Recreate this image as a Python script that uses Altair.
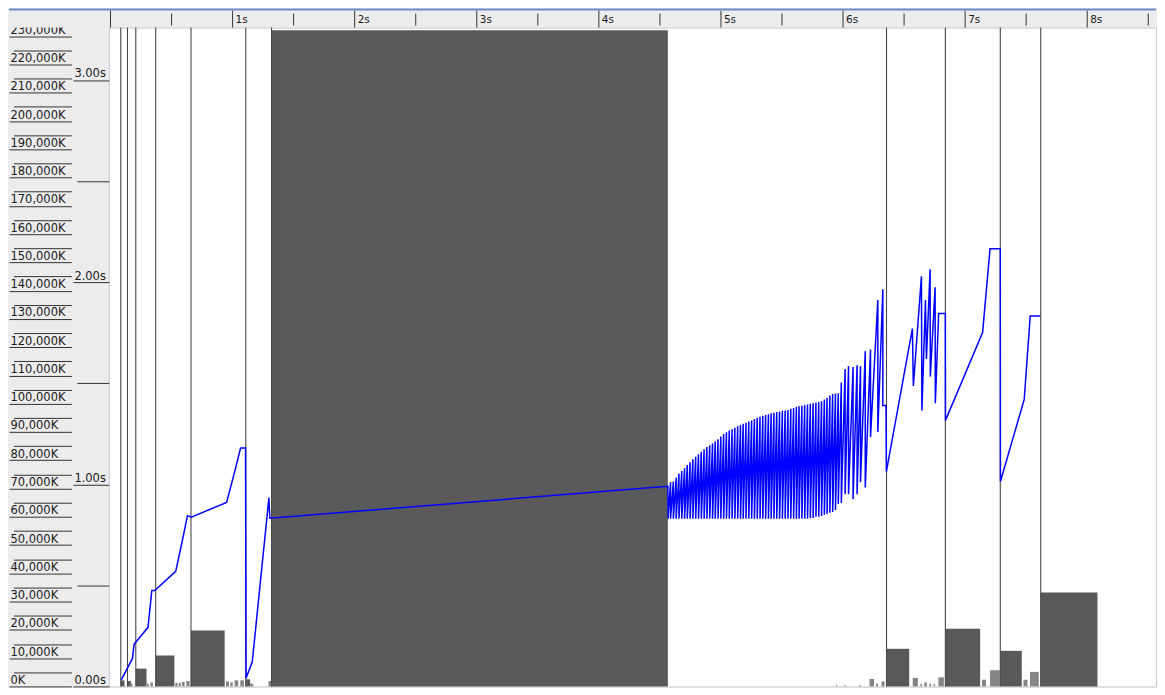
import altair as alt
import pandas as pd

# ---------------- data ----------------
# heap usage line (time in s, used heap in K)
pre_t = [0.088, 0.180, 0.193, 0.307, 0.338, 0.362, 0.534, 0.589, 0.630, 0.662,
         0.951, 1.025, 1.065, 1.106, 1.110, 1.161, 1.284, 1.297, 1.305, 4.565, 4.567]
pre_k = [2300, 9900, 14900, 20900, 33900, 33900, 40700, 51700, 60400, 59900,
         65100, 77300, 84300, 84300, 2900, 8700, 61000, 66800, 59500, 70800, 59300]

# young collections in the dense sawtooth (time, heap before GC, heap after GC)
saw_t = [4.587, 4.610, 4.633, 4.656, 4.679, 4.702, 4.724, 4.747, 4.770, 4.793,
         4.816, 4.839, 4.862, 4.885, 4.908, 4.931, 4.953, 4.976, 4.999, 5.022,
         5.045, 5.068, 5.091, 5.114, 5.137, 5.160, 5.182, 5.205, 5.228, 5.251,
         5.274, 5.297, 5.320, 5.343, 5.366, 5.389, 5.411, 5.434, 5.457, 5.480,
         5.503, 5.526, 5.549, 5.572, 5.595, 5.618, 5.640, 5.663, 5.686, 5.709,
         5.732, 5.755, 5.778, 5.801, 5.824, 5.847, 5.869, 5.892, 5.915, 5.938,
         5.961, 5.986, 6.017, 6.045, 6.082, 6.115, 6.143, 6.182, 6.225, 6.285, 6.326]
saw_peak = [72200, 72500, 73900, 75300, 76200, 77200, 78300, 79300, 80400, 81200,
            82100, 83000, 83900, 84700, 85300, 85900, 86600, 87400, 88400, 89300,
            89900, 90500, 91000, 91500, 92000, 92500, 92900, 93300, 93700, 94100,
            94600, 95000, 95400, 95700, 96000, 96300, 96600, 96800, 97100, 97200,
            97500, 97600, 97800, 98200, 98500, 98900, 99100, 99300, 99500, 99700,
            100000, 100200, 100400, 100600, 100900, 101500, 102000, 102900, 103400, 103600,
            103700, 107500, 112300, 113300, 113000, 113600, 113300, 118600, 119200, 136700, 140500]
saw_low = [59300, 59300, 59300, 59300, 59300, 59300, 59300, 59300, 59300, 59300,
           59300, 59300, 59300, 59300, 59300, 59300, 59300, 59300, 59300, 59300,
           59300, 59300, 59300, 59300, 59300, 59300, 59300, 59300, 59300, 59300,
           59300, 59300, 59300, 59300, 59300, 59300, 59300, 59300, 59300, 59300,
           59300, 59300, 59300, 59300, 59300, 59300, 59300, 59300, 59300, 59300,
           59600, 59600, 60000, 60000, 60300, 60700, 61000, 61400, 61700, 62400,
           64500, 64900, 68000, 68000, 66200, 68000, 72200, 70400, 88200, 90000, 99400]

post_t = [6.352, 6.355, 6.568, 6.576, 6.642, 6.646, 6.675, 6.683, 6.713, 6.715, 6.754,
          6.756, 6.783, 6.838, 6.839, 7.143, 7.204, 7.288, 7.289, 7.484, 7.533, 7.615]
post_k = [99400, 76000, 126600, 106300, 145100, 97600, 136700, 115800, 147600, 109600, 141200,
          100200, 131900, 131900, 94100, 125200, 154800, 154800, 72500, 101500, 131000, 131000]

# full GC events: start time and pause (s)
full_t = [0.084, 0.139, 0.207, 0.370, 0.659, 1.108, 1.319, 6.356, 6.838, 7.288, 7.619]
full_d = [0.030, 0.027, 0.088, 0.153, 0.276, 0.035, 3.246, 0.186, 0.285, 0.176, 0.465]

# young GC pauses that are visible (start time, pause in s)
young_t = [0.164, 0.299, 0.327, 0.531, 0.558, 0.585, 0.621, 0.945, 0.981, 1.016,
           1.063, 1.145, 1.158, 1.294, 5.944, 6.012, 6.135, 6.217, 6.271, 6.315,
           6.571, 6.634, 6.666, 6.707, 6.742, 6.781, 7.138, 7.204, 7.478, 7.531]
young_d = [0.015, 0.014, 0.020, 0.018, 0.018, 0.022, 0.027, 0.025, 0.020, 0.030,
           0.030, 0.015, 0.012, 0.027, 0.008, 0.008, 0.008, 0.037, 0.015, 0.025,
           0.042, 0.012, 0.020, 0.014, 0.012, 0.045, 0.033, 0.080, 0.033, 0.072]

# ruler ticks and labels
sec_major = [0, 1, 2, 3, 4, 5, 6, 7, 8]
sec_labels = ["", "1s", "2s", "3s", "4s", "5s", "6s", "7s", "8s"]
sec_minor = [0.5, 1.5, 2.5, 3.5, 4.5, 5.5, 6.5, 7.5, 8.5]
mem_ticks = list(range(0, 230001, 5000))
pause_ticks = [0, 0.5, 1, 1.5, 2, 2.5, 3]

# ---------------- tables ----------------
rows = list(zip(pre_t, pre_k))
for t, p, l in zip(saw_t, saw_peak, saw_low):
    rows.append((t, p))
    rows.append((t, l))
rows += list(zip(post_t, post_k))
heap = pd.DataFrame(rows, columns=["t", "k"])
heap["i"] = range(len(heap))

pauses = pd.DataFrame({
    "t": full_t + young_t,
    "d": full_d + young_d,
    "kind": ["full"] * len(full_t) + ["young"] * len(young_t),
})
pauses["end"] = pauses["t"] + pauses["d"]
pauses["zero"] = 0.0

full_df = pd.DataFrame({"t": full_t})
major_df = pd.DataFrame({"t": sec_major, "label": sec_labels})
minor_df = pd.DataFrame({"t": sec_minor})
deco = pd.DataFrame({"a": [0]})

W, H = 1049, 660
FONT = "DejaVu Sans"
xscale = alt.Scale(domain=[-0.0139, 8.5634], nice=False, zero=False)
mem_scale = alt.Scale(domain=[0, 233068], nice=False, zero=False)
pause_scale = alt.Scale(domain=[0, 3.2593], nice=False, zero=False)
noX = dict(scale=xscale, axis=None)

pause_axis = alt.Axis(
    orient="left", offset=0, values=pause_ticks, domain=False, grid=False, title=None,
    tickSize={"condition": {"test": "datum.value % 1 != 0", "value": 32}, "value": 36},
    tickColor="#333333", tickWidth=1,
    labelExpr="datum.value % 1 == 0 ? format(datum.value, '.2f') + 's' : ''",
    labelAlign="left", labelBaseline="alphabetic", labelPadding=-1, labelOffset=-3,
    labelFlush=False, labelOverlap=False, labelFont=FONT, labelFontSize=11.5,
    labelColor="#1a1a1a",
)
mem_axis = alt.Axis(
    orient="left", offset=37.5, values=mem_ticks, domain=False, grid=False, title=None,
    tickSize={"condition": {"test": "datum.value % 10000 != 0", "value": 58}, "value": 62.5},
    tickColor="#333333", tickWidth=1,
    labelExpr="datum.value % 10000 == 0 ? format(datum.value, ',') + 'K' : ''",
    labelAlign="left", labelBaseline="alphabetic", labelPadding=-1, labelOffset=-3,
    labelFlush=False, labelOverlap=False, labelFont=FONT, labelFontSize=11.5,
    labelColor="#1a1a1a",
)

bars = alt.Chart(pauses).mark_rect().encode(
    x=alt.X("t:Q", **noX),
    x2="end:Q",
    y=alt.Y("d:Q", scale=pause_scale, axis=pause_axis),
    y2="zero:Q",
    color=alt.Color("kind:N", scale=alt.Scale(domain=["full", "young"],
                                              range=["#595959", "#858585"]), legend=None),
)

rules = alt.Chart(full_df).mark_rule(color="#474747", strokeWidth=1.1).encode(
    x=alt.X("t:Q", **noX),
)

line = alt.Chart(heap).mark_line(color="#0000ff", strokeWidth=1.5).encode(
    x=alt.X("t:Q", **noX),
    y=alt.Y("k:Q", scale=mem_scale, axis=mem_axis),
    order="i:Q",
)

# time ruler along the top
major_ticks = alt.Chart(major_df).mark_rule(color="#333333", strokeWidth=1).encode(
    x=alt.X("t:Q", **noX), y=alt.value(-17), y2=alt.value(0),
)
minor_ticks = alt.Chart(minor_df).mark_rule(color="#333333", strokeWidth=1).encode(
    x=alt.X("t:Q", **noX), y=alt.value(-14), y2=alt.value(-2),
)
major_text = alt.Chart(major_df).mark_text(
    align="left", baseline="middle", dx=3, font=FONT, fontSize=10.5, color="#1a1a1a",
).encode(
    x=alt.X("t:Q", **noX), y=alt.value(-7.5), text="label:N",
)

corner = alt.Chart(deco).mark_rect(color="#ececec").encode(
    x=alt.value(-100), x2=alt.value(0), y=alt.value(-19), y2=alt.value(0),
)
topline = alt.Chart(deco).mark_rule(color="#6e8bc5", strokeWidth=2).encode(
    x=alt.value(-100), x2=alt.value(W), y=alt.value(-18),
)

chart = alt.layer(
    bars, rules, line, major_ticks, minor_ticks, major_text, corner, topline
).resolve_scale(
    y="independent"
).properties(
    width=W, height=H, padding=0, background="#ececec",
).configure_view(stroke="#c5cad6", strokeWidth=1, fill="white")

chart.save("out.html", embed_options={"renderer": "svg", "actions": False})
